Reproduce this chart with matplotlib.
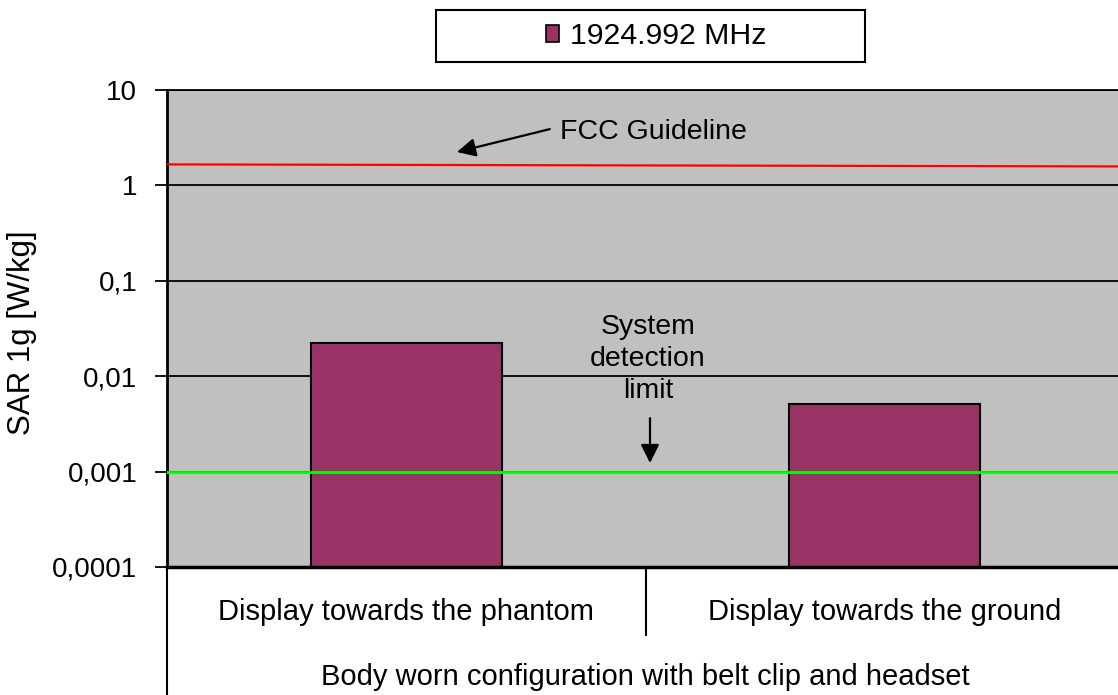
import matplotlib
matplotlib.use("Agg")
import matplotlib.pyplot as plt
from matplotlib.patches import Patch, Rectangle
from matplotlib.ticker import FixedLocator, FixedFormatter, NullLocator
import matplotlib.transforms as mtransforms

plt.rcParams['font.family'] = ['Liberation Sans', 'DejaVu Sans']

# ---- data ----
categories = ["Display towards the phantom", "Display towards the ground"]
group_label = "Body worn configuration with belt clip and headset"
series_name = "1924.992 MHz"
sar_values = [0.0225, 0.0051]
fcc_guideline = [1.66, 1.58]      # red line, left / right end
detection_limit = [0.001, 0.001]  # green line
ytick_values = [0.0001, 0.001, 0.01, 0.1, 1, 10]
ytick_labels = ["0,0001", "0,001", "0,01", "0,1", "1", "10"]
ylabel = "SAR 1g [W/kg]"

W, H = 1118, 695
fig = plt.figure(figsize=(W / 100, H / 100), dpi=100)
ax = fig.add_axes([167 / W, 1 - 567 / H, 957 / W, 477 / H])
ax.set_facecolor("#C0C0C0")
ax.set_yscale("log")
ax.set_ylim(ytick_values[0], ytick_values[-1])
ax.set_xlim(-0.5, len(categories) - 0.5)

xpos = list(range(len(categories)))
ax.bar(xpos, sar_values, width=0.4, color="#993366", edgecolor="black",
       linewidth=1.5, zorder=2, label=series_name)

ax.plot([-0.5, len(categories) - 0.5], fcc_guideline, color="#FF0000", lw=1.6, zorder=4)
ax.plot([-0.5, len(categories) - 0.5], detection_limit, color="#00FF00", lw=2.0, zorder=4)

ax.yaxis.set_major_locator(FixedLocator(ytick_values))
ax.yaxis.set_major_formatter(FixedFormatter(ytick_labels))
ax.yaxis.set_minor_locator(NullLocator())
ax.set_xticks([])
ax.yaxis.grid(True, which="major", color="black", lw=1.3, zorder=1)
ax.set_axisbelow(True)
ax.tick_params(axis="y", direction="out", length=9, width=1.3, labelsize=20, pad=12.5)

ax.spines["right"].set_visible(False)
ax.spines["top"].set_linewidth(1.3)
ax.spines["left"].set_linewidth(2.0)
ax.spines["bottom"].set_linewidth(2.5)

fig.text(22 / W, 1 - 333 / H, ylabel, rotation=90, ha="center", va="center", fontsize=22.5)

# hierarchical x-axis labels
trans = mtransforms.blended_transform_factory(ax.transData, ax.transAxes)
for i, c in enumerate(categories):
    ax.text(i, -0.094, c, transform=trans, ha="center", va="center", fontsize=21)
ax.plot([0.5, 0.5], [0, -0.1426], transform=trans, color="black", lw=1.5, clip_on=False)
ax.plot([-0.5, -0.5], [0, -0.30], transform=trans, color="black", lw=1.5, clip_on=False)
ax.text(0.5, -0.2306, group_label, transform=trans, ha="center", va="center", fontsize=21)

# annotations
ap = dict(arrowstyle="-|>", color="black", lw=1.6, mutation_scale=28, shrinkA=0, shrinkB=0)
ax.annotate("", xy=(0.303, 0.870), xycoords="axes fraction",
            xytext=(0.400, 0.918), textcoords="axes fraction", arrowprops=ap, zorder=5)
ax.text(0.411, 0.912, "FCC Guideline", transform=ax.transAxes, ha="left", va="center", fontsize=20.5)
ax.text(0.5026, 0.436, "System\ndetection\nlimit", transform=ax.transAxes, ha="center",
        va="center", fontsize=20.5, linespacing=1.32)
ax.annotate("", xy=(0.5047, 0.218), xycoords="axes fraction",
            xytext=(0.5047, 0.312), textcoords="axes fraction", arrowprops=ap, zorder=5)

# legend
fig.patches.append(Rectangle((436 / W, 1 - 62 / H), (865 - 436) / W, 52 / H,
                             transform=fig.transFigure, facecolor="white",
                             edgecolor="black", lw=1.5, zorder=0))
handles = [Patch(facecolor="#993366", edgecolor="black", lw=1.2, label=series_name)]
fig.legend(handles=handles, loc="center", bbox_to_anchor=(656 / W, 1 - 36 / H),
           frameon=False, fontsize=21.8, handlelength=0.45, handleheight=0.5,
           handletextpad=0.35, borderpad=0.2)

fig.savefig("out.png", dpi=100)
